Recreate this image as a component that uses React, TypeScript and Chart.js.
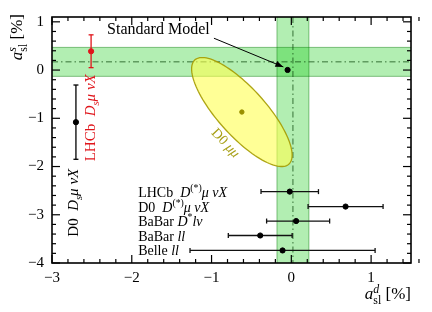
import { useEffect, useRef } from "react";
import { Chart, registerables } from "chart.js";

Chart.register(...registerables);

const FONT = "'Liberation Serif', 'Times New Roman', serif";

// ---- axes ----
const X_MIN = -3;
const X_MAX = 1.5;
const Y_MIN = -4;
const Y_MAX = 1.1;
const X_TICKS = [-3, -2, -1, 0, 1];
const Y_TICKS = [-4, -3, -2, -1, 0, 1];
const MINOR_STEP = 0.2;

// ---- world averages (center, half width) ----
const AVG_D = [0.02, 0.2];
const AVG_S = [0.17, 0.3];

// ---- Standard Model ----
const SM_POINT = [-0.047, 0.002];

// ---- a_sl^d measurements ----
const D_EXPTS = ["LHCb D(*)μνX", "D0 D(*)μνX", "BaBar D*lν", "BaBar ll", "Belle ll"];
const D_VALUES = [-0.02, 0.68, 0.06, -0.39, -0.11];
const D_ERR_LO = [0.36, 0.47, 0.37, 0.4, 1.16];
const D_ERR_HI = [0.36, 0.47, 0.42, 0.4, 1.16];
const D_ROWS = [-2.52, -2.83, -3.13, -3.43, -3.74];

// ---- a_sl^s measurements ----
const S_EXPTS = ["LHCb DsμνX", "D0 DsμνX"];
const S_VALUES = [0.39, -1.08];
const S_ERRS = [0.34, 0.77];
const S_XPOS = [-2.51, -2.7];

// ---- D0 dimuon ----
const DIMUON_CENTER = [-0.62, -0.87];
const DIMUON_HALF = [0.63, 1.13];
const DIMUON_RHO = -0.79;

type Part = { t: string; it?: boolean; k?: number; dy?: number; stack?: boolean };

const D_LABELS: Part[][] = [
  [{ t: "LHCb  " }, { t: "D", it: true }, { t: "(*)", k: 0.7, dy: -0.4 }, { t: "μ νX", it: true }],
  [{ t: "D0  " }, { t: "D", it: true }, { t: "(*)", k: 0.7, dy: -0.4 }, { t: "μ νX", it: true }],
  [{ t: "BaBar " }, { t: "D", it: true }, { t: "*", k: 0.7, dy: -0.4 }, { t: "lν", it: true }],
  [{ t: "BaBar " }, { t: "ll", it: true }],
  [{ t: "Belle " }, { t: "ll", it: true }],
];
const S_LABELS: Part[][] = [
  [{ t: "LHCb  " }, { t: "D", it: true }, { t: "s", it: true, k: 0.7, dy: 0.25 }, { t: "μ νX", it: true }],
  [{ t: "D0  " }, { t: "D", it: true }, { t: "s", it: true, k: 0.7, dy: 0.25 }, { t: "μ νX", it: true }],
];
const S_LABEL_POS = [
  [-2.46, -0.99],
  [-2.67, -2.75],
];
const S_COLORS = ["#e0151b", "#000000"];
const ROW_LABEL_X = -1.92;
const SM_TEXT_POS = [-2.31, 0.744];
const SM_ARROW_FROM = [-0.97, 0.66];
const SM_ARROW_TO = [-0.1, 0.065];
const DIMUON_LABEL_POS = [-0.816, -1.5];
const DIMUON_LABEL_ANGLE = 47;

const BAND_FILL = "rgba(0,200,0,0.30)";
const BAND_EDGE = "rgba(0,120,0,0.45)";
const OLIVE = "#a8a018";

function layoutRich(ctx: CanvasRenderingContext2D, parts: Part[], size: number) {
  let x = 0;
  let prevStart = 0;
  let prevEnd = 0;
  const items: any[] = [];
  for (const p of parts) {
    const fs = size * (p.k ?? 1);
    const font = `${p.it ? "italic " : ""}${fs}px ${FONT}`;
    ctx.font = font;
    const w = ctx.measureText(p.t).width;
    const start = p.stack ? prevStart : x;
    items.push({ ...p, font, start, w });
    const end = start + w;
    x = p.stack ? Math.max(prevEnd, end) : end;
    prevStart = start;
    prevEnd = end;
  }
  return { items, width: x };
}

function drawRich(
  ctx: CanvasRenderingContext2D,
  parts: Part[],
  x: number,
  y: number,
  size: number,
  color: string,
  align: "left" | "right" | "center" = "left"
) {
  const { items, width } = layoutRich(ctx, parts, size);
  const x0 = align === "left" ? x : align === "right" ? x - width : x - width / 2;
  ctx.fillStyle = color;
  ctx.textBaseline = "alphabetic";
  ctx.textAlign = "left";
  for (const it of items) {
    ctx.font = it.font;
    ctx.fillText(it.t, x0 + it.start, y + (it.dy ?? 0) * size);
  }
}

function line(ctx: CanvasRenderingContext2D, x1: number, y1: number, x2: number, y2: number) {
  ctx.beginPath();
  ctx.moveTo(x1, y1);
  ctx.lineTo(x2, y2);
  ctx.stroke();
}

const overlay = {
  id: "overlay",
  beforeDatasetsDraw(chart: any) {
    const { ctx, chartArea: a, scales } = chart;
    const px = (v: number) => scales.x.getPixelForValue(v);
    const py = (v: number) => scales.y.getPixelForValue(v);
    ctx.save();
    ctx.beginPath();
    ctx.rect(a.left, a.top, a.right - a.left, a.bottom - a.top);
    ctx.clip();

    // bands
    const xl = px(AVG_D[0] - AVG_D[1]);
    const xr = px(AVG_D[0] + AVG_D[1]);
    const yt = py(AVG_S[0] + AVG_S[1]);
    const yb = py(AVG_S[0] - AVG_S[1]);
    ctx.fillStyle = BAND_FILL;
    ctx.fillRect(xl, a.top, xr - xl, a.bottom - a.top);
    ctx.fillRect(a.left, yt, a.right - a.left, yb - yt);
    ctx.strokeStyle = BAND_EDGE;
    ctx.lineWidth = 1;
    line(ctx, xl, a.top, xl, a.bottom);
    line(ctx, xr, a.top, xr, a.bottom);
    line(ctx, a.left, yt, a.right, yt);
    line(ctx, a.left, yb, a.right, yb);

    // dash-dot center lines
    ctx.strokeStyle = "rgba(20,80,20,0.8)";
    ctx.setLineDash([6, 3, 1.5, 3]);
    line(ctx, px(AVG_D[0]), a.top, px(AVG_D[0]), a.bottom);
    line(ctx, a.left, py(AVG_S[0]), a.right, py(AVG_S[0]));
    ctx.setLineDash([]);

    // dimuon ellipse
    const th = Math.acos(DIMUON_RHO);
    ctx.beginPath();
    const N = 120;
    for (let i = 0; i <= N; i++) {
      const t = (i / N) * Math.PI * 2;
      const ex = DIMUON_CENTER[0] + DIMUON_HALF[0] * Math.cos(t);
      const ey = DIMUON_CENTER[1] + DIMUON_HALF[1] * Math.cos(t - th);
      if (i === 0) ctx.moveTo(px(ex), py(ey));
      else ctx.lineTo(px(ex), py(ey));
    }
    ctx.closePath();
    ctx.fillStyle = "rgba(255,255,80,0.6)";
    ctx.fill();
    ctx.strokeStyle = "rgba(165,155,0,0.9)";
    ctx.lineWidth = 1.3;
    ctx.stroke();

    // error bars
    ctx.lineWidth = 1.3;
    const cap = 2.5;
    D_VALUES.forEach((v, i) => {
      ctx.strokeStyle = "#111";
      const y0 = py(D_ROWS[i]);
      const x1 = px(v - D_ERR_LO[i]);
      const x2 = px(v + D_ERR_HI[i]);
      line(ctx, x1, y0, x2, y0);
      line(ctx, x1, y0 - cap, x1, y0 + cap);
      line(ctx, x2, y0 - cap, x2, y0 + cap);
    });
    S_VALUES.forEach((v, i) => {
      ctx.strokeStyle = S_COLORS[i];
      const x0 = px(S_XPOS[i]);
      const y1 = py(v + S_ERRS[i]);
      const y2 = py(v - S_ERRS[i]);
      line(ctx, x0, y1, x0, y2);
      line(ctx, x0 - cap, y1, x0 + cap, y1);
      line(ctx, x0 - cap, y2, x0 + cap, y2);
    });
    ctx.restore();
  },
  afterDraw(chart: any) {
    const { ctx, chartArea: a, scales } = chart;
    const px = (v: number) => scales.x.getPixelForValue(v);
    const py = (v: number) => scales.y.getPixelForValue(v);
    ctx.save();

    // frame + inward ticks
    ctx.strokeStyle = "#000";
    ctx.lineWidth = 1.2;
    const nx = Math.round((X_MAX - X_MIN) / MINOR_STEP);
    for (let i = 0; i <= nx; i++) {
      const v = X_MIN + i * MINOR_STEP;
      const major = Math.abs(v - Math.round(v)) < 1e-6;
      const L = major ? 8 : 4;
      const p = px(v);
      line(ctx, p, a.bottom, p, a.bottom - L);
      line(ctx, p, a.top, p, a.top + L);
    }
    const ny = Math.floor((Y_MAX - Y_MIN) / MINOR_STEP + 1e-6);
    for (let i = 0; i <= ny; i++) {
      const v = Y_MIN + i * MINOR_STEP;
      const major = Math.abs(v - Math.round(v)) < 1e-6;
      const L = major ? 8 : 4;
      const p = py(v);
      line(ctx, a.left, p, a.left + L, p);
      line(ctx, a.right, p, a.right - L, p);
    }
    ctx.lineWidth = 1.6;
    ctx.strokeRect(a.left, a.top, a.right - a.left, a.bottom - a.top);

    // row labels
    D_LABELS.forEach((parts, i) => {
      drawRich(ctx, parts, px(ROW_LABEL_X), py(D_ROWS[i]) + 5, 14, "#000", "left");
    });

    // rotated a_sl^s labels
    S_LABELS.forEach((parts, i) => {
      ctx.save();
      ctx.translate(px(S_LABEL_POS[i][0]), py(S_LABEL_POS[i][1]));
      ctx.rotate(-Math.PI / 2);
      drawRich(ctx, parts, 0, 0, 15, S_COLORS[i], "center");
      ctx.restore();
    });

    // dimuon label
    ctx.save();
    ctx.translate(px(DIMUON_LABEL_POS[0]), py(DIMUON_LABEL_POS[1]));
    ctx.rotate((DIMUON_LABEL_ANGLE * Math.PI) / 180);
    drawRich(ctx, [{ t: "D0 " }, { t: "μμ", it: true }], 0, 5, 14, OLIVE, "center");
    ctx.restore();

    // Standard Model text + arrow
    drawRich(ctx, [{ t: "Standard Model" }], px(SM_TEXT_POS[0]), py(SM_TEXT_POS[1]), 16, "#000", "left");
    const ax1 = px(SM_ARROW_FROM[0]);
    const ay1 = py(SM_ARROW_FROM[1]);
    const ax2 = px(SM_ARROW_TO[0]);
    const ay2 = py(SM_ARROW_TO[1]);
    ctx.strokeStyle = "#000";
    ctx.lineWidth = 1;
    line(ctx, ax1, ay1, ax2, ay2);
    const ang = Math.atan2(ay2 - ay1, ax2 - ax1);
    const hl = 8;
    const hw = 3;
    ctx.beginPath();
    ctx.moveTo(ax2, ay2);
    ctx.lineTo(ax2 - hl * Math.cos(ang) + hw * Math.sin(ang), ay2 - hl * Math.sin(ang) - hw * Math.cos(ang));
    ctx.lineTo(ax2 - hl * Math.cos(ang) - hw * Math.sin(ang), ay2 - hl * Math.sin(ang) + hw * Math.cos(ang));
    ctx.closePath();
    ctx.fillStyle = "#000";
    ctx.fill();

    // axis titles
    const titleS: Part[] = [
      { t: "a", it: true },
      { t: "sl", k: 0.7, dy: 0.28 },
      { t: "s", it: true, k: 0.7, dy: -0.38, stack: true },
      { t: " [%]" },
    ];
    const titleD: Part[] = [
      { t: "a", it: true },
      { t: "sl", k: 0.7, dy: 0.28 },
      { t: "d", it: true, k: 0.7, dy: -0.36, stack: true },
      { t: " [%]" },
    ];
    drawRich(ctx, titleD, a.right, a.bottom + 36, 17, "#000", "right");
    ctx.save();
    ctx.translate(a.left - 30, a.top - 3);
    ctx.rotate(-Math.PI / 2);
    drawRich(ctx, titleS, 0, 0, 17, "#000", "right");
    ctx.restore();

    ctx.restore();
  },
};

const fmt = (v: any) => String(v).replace("-", "\u2212");

export default function App() {
  const ref = useRef<HTMLCanvasElement | null>(null);
  useEffect(() => {
    const canvas = ref.current;
    if (!canvas) return;
    const chart = new Chart(canvas, {
      type: "scatter",
      data: {
        datasets: [
          {
            data: [{ x: SM_POINT[0], y: SM_POINT[1] }],
            backgroundColor: "#000",
            borderColor: "#000",
            pointRadius: 2.6,
          },
          {
            data: S_VALUES.map((v, i) => ({ x: S_XPOS[i], y: v })),
            backgroundColor: S_COLORS,
            borderColor: S_COLORS,
            pointRadius: 2.6,
          },
          {
            data: [{ x: DIMUON_CENTER[0], y: DIMUON_CENTER[1] }],
            backgroundColor: "#9a9000",
            borderColor: "#9a9000",
            pointRadius: 2.2,
          },
          {
            data: D_VALUES.map((v, i) => ({ x: v, y: D_ROWS[i] })),
            backgroundColor: "#000",
            borderColor: "#000",
            pointRadius: 2.6,
          },
        ],
      } as any,
      options: {
        animation: false,
        responsive: false,
        devicePixelRatio: 1,
        layout: { padding: { top: 16, right: 21, left: 0, bottom: 0 } },
        plugins: { legend: { display: false }, tooltip: { enabled: false } },
        scales: {
          x: {
            type: "linear",
            min: X_MIN,
            max: X_MAX,
            afterBuildTicks: (s: any) => {
              s.ticks = X_TICKS.map((v) => ({ value: v }));
            },
            afterFit: (s: any) => {
              s.height = 49;
            },
            grid: { display: false, drawTicks: false },
            border: { display: false },
            ticks: {
              font: { family: FONT, size: 15 },
              color: "#000",
              padding: 6,
              maxRotation: 0,
              autoSkip: false,
              callback: fmt,
            },
          },
          y: {
            type: "linear",
            min: Y_MIN,
            max: Y_MAX,
            afterBuildTicks: (s: any) => {
              s.ticks = Y_TICKS.map((v) => ({ value: v }));
            },
            afterFit: (s: any) => {
              s.width = 52;
            },
            grid: { display: false, drawTicks: false },
            border: { display: false },
            ticks: {
              font: { family: FONT, size: 15 },
              color: "#000",
              padding: 8,
              autoSkip: false,
              callback: fmt,
            },
          },
        },
      } as any,
      plugins: [overlay],
    });
    return () => chart.destroy();
  }, []);
  return (
    <div style={{ position: "absolute", left: 0, top: 0, width: 432, height: 312 }}>
      <canvas ref={ref} width={432} height={312} style={{ width: 432, height: 312 }} />
    </div>
  );
}
